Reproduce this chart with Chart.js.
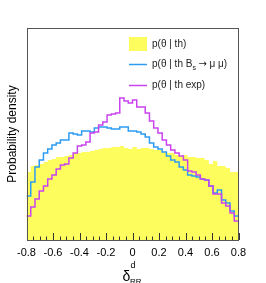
<!DOCTYPE html>
<html lang="en">
<head>
<meta charset="UTF-8">
<title>Probability density</title>
<script src="https://cdn.jsdelivr.net/npm/chart.js"></script>
<style>
    body { margin: 0; padding: 0; background: #fff; }
    #wrap { width: 266px; height: 283px; }
</style>
</head>
<body>
<div id="wrap"><canvas id="chart" width="266" height="283"></canvas></div>
<script>
// histogram binning: 50 bins on [-0.8, 0.8]
const xMin = -0.8;
const xMax = 0.8;
const nBins = 50;

// p(theta | th)  (filled yellow)
const pTh = [0.68, 0.74, 0.75, 0.76, 0.78, 0.80, 0.81, 0.83, 0.83, 0.84,
             0.85, 0.87, 0.87, 0.88, 0.88, 0.89, 0.90, 0.91, 0.92, 0.92,
             0.93, 0.93, 0.94, 0.92, 0.91, 0.93, 0.91, 0.92, 0.92, 0.91,
             0.90, 0.90, 0.88, 0.87, 0.87, 0.85, 0.84, 0.85, 0.83, 0.83,
             0.82, 0.82, 0.80, 0.76, 0.79, 0.74, 0.74, 0.72, 0.68, 0.68];

// p(theta | th Bs -> mu mu)  (blue line)
const pThBs = [0.44, 0.58, 0.73, 0.80, 0.87, 0.91, 0.95, 0.97, 1.00, 1.00,
               1.07, 1.06, 1.05, 1.09, 1.09, 1.08, 1.12, 1.13, 1.13, 1.12,
               1.11, 1.11, 1.13, 1.13, 1.09, 1.09, 1.08, 1.06, 1.03, 0.97,
               0.93, 0.91, 0.88, 0.84, 0.80, 0.78, 0.73, 0.70, 0.65, 0.64,
               0.63, 0.61, 0.60, 0.54, 0.47, 0.50, 0.40, 0.37, 0.29, 0.24];

// p(theta | th exp)  (magenta line)
const pThExp = [0.24, 0.33, 0.41, 0.49, 0.54, 0.61, 0.65, 0.71, 0.75, 0.76,
                0.82, 0.87, 0.94, 0.95, 0.98, 1.07, 1.08, 1.15, 1.18, 1.25,
                1.26, 1.27, 1.42, 1.39, 1.37, 1.40, 1.33, 1.33, 1.27, 1.19,
                1.12, 1.07, 1.00, 0.95, 0.90, 0.87, 0.84, 0.80, 0.69, 0.68,
                0.65, 0.61, 0.60, 0.54, 0.46, 0.46, 0.37, 0.34, 0.27, 0.19];

const xTicks = [-0.8, -0.6, -0.4, -0.2, 0, 0.2, 0.4, 0.6, 0.8];
const yMax = 2.12;

const binW = (xMax - xMin) / nBins;

// step points: one at each bin's low edge, plus the closing edge
function toSteps(vals) {
    const pts = vals.map((v, i) => ({ x: xMin + i * binW, y: v }));
    pts.push({ x: xMax, y: vals[vals.length - 1] });
    return pts;
}

const BLUE = '#2c9cf2';
const MAGENTA = '#c944ee';
const YELLOW = '#fdfd5e';
const FONT = 'Liberation Sans, Arial, sans-serif';

// frame, inward ticks, legend and axis titles
const rootStyle = {
    id: 'rootStyle',
    afterDatasetsDraw(chart) {
        const ctx = chart.ctx;
        const a = chart.chartArea;
        const xs = chart.scales.x;
        ctx.save();

        // ticks (major every 0.2, minor every 0.05)
        ctx.strokeStyle = '#333';
        ctx.lineWidth = 1;
        for (let k = -16; k <= 16; k++) {
            const v = k * 0.05;
            const px = Math.round(xs.getPixelForValue(v)) + 0.5;
            const len = (k % 4 === 0) ? 7 : 3.5;
            ctx.beginPath();
            ctx.moveTo(px, a.bottom);
            ctx.lineTo(px, a.bottom - len);
            ctx.stroke();
        }

        // frame
        ctx.strokeStyle = '#555';
        ctx.strokeRect(Math.round(a.left) + 0.5, Math.round(a.top) + 0.5,
                       Math.round(a.right - a.left) - 1, Math.round(a.bottom - a.top));

        // legend
        ctx.textBaseline = 'middle';
        ctx.textAlign = 'left';
        ctx.font = '10px ' + FONT;

        ctx.fillStyle = YELLOW;
        ctx.fillRect(129, 37, 18, 14);
        ctx.fillStyle = '#222';
        ctx.fillText('p(\u03b8 | th)', 152, 44);

        ctx.strokeStyle = BLUE;
        ctx.lineWidth = 1.5;
        ctx.beginPath(); ctx.moveTo(129, 64.5); ctx.lineTo(147, 64.5); ctx.stroke();
        let tx = 152;
        const t1 = 'p(\u03b8 | th B';
        ctx.fillText(t1, tx, 64);
        tx += ctx.measureText(t1).width;
        ctx.font = '7px ' + FONT;
        ctx.fillText('s', tx, 68);
        tx += ctx.measureText('s').width + 2.5;
        ctx.font = '10px DejaVu Sans, sans-serif';
        ctx.fillText('\u2192', tx, 64);
        tx += ctx.measureText('\u2192').width;
        ctx.font = '10px ' + FONT;
        ctx.fillText(' \u03bc \u03bc)', tx, 64);

        ctx.strokeStyle = MAGENTA;
        ctx.beginPath(); ctx.moveTo(129, 85.5); ctx.lineTo(147, 85.5); ctx.stroke();
        ctx.fillText('p(\u03b8 | th exp)', 152, 85);

        // y title
        ctx.save();
        ctx.translate(16, (a.top + a.bottom) / 2);
        ctx.rotate(-Math.PI / 2);
        ctx.textAlign = 'center';
        ctx.textBaseline = 'alphabetic';
        ctx.font = '12px ' + FONT;
        ctx.fillStyle = '#000';
        ctx.fillText('Probability density', 0, 0);
        ctx.restore();

        // x title: delta^d_RR
        ctx.fillStyle = '#000';
        ctx.textBaseline = 'alphabetic';
        ctx.font = '14px ' + FONT;
        ctx.fillText('\u03b4', 122.5, 281);
        ctx.font = '9px ' + FONT;
        ctx.fillText('d', 130.5, 268);
        ctx.font = '8px ' + FONT;
        ctx.fillText('RR', 130, 284);

        ctx.restore();
    }
};

const ctx = document.getElementById('chart').getContext('2d');
const chart = new Chart(ctx, {
    type: 'line',
    data: {
        datasets: [
            {
                label: 'p(\u03b8 | th exp)',
                data: toSteps(pThExp),
                borderColor: MAGENTA,
                borderWidth: 1.5,
                stepped: true,
                pointRadius: 0,
                fill: false
            },
            {
                label: 'p(\u03b8 | th B_s \u2192 \u03bc \u03bc)',
                data: toSteps(pThBs),
                borderColor: BLUE,
                borderWidth: 1.5,
                stepped: true,
                pointRadius: 0,
                fill: false
            },
            {
                label: 'p(\u03b8 | th)',
                data: toSteps(pTh),
                borderColor: YELLOW,
                backgroundColor: YELLOW,
                borderWidth: 0,
                stepped: true,
                pointRadius: 0,
                fill: 'origin'
            }
        ]
    },
    options: {
        responsive: false,
        animation: false,
        layout: { padding: { left: 26.5, top: 28, right: 27.5, bottom: 0 } },
        plugins: {
            legend: { display: false },
            tooltip: { enabled: false }
        },
        scales: {
            x: {
                type: 'linear',
                min: xMin,
                max: xMax,
                afterFit: s => { s.height = 43; },
                afterBuildTicks: s => { s.ticks = xTicks.map(v => ({ value: v })); },
                grid: { display: false, drawTicks: false },
                border: { display: false },
                ticks: {
                    padding: 6,
                    maxRotation: 0,
                    autoSkip: false,
                    color: '#000',
                    font: { family: FONT, size: 11 },
                    callback: v => String(Math.round(v * 10) / 10)
                }
            },
            y: {
                display: false,
                min: 0,
                max: yMax
            }
        }
    },
    plugins: [rootStyle]
});
</script>
</body>
</html>
